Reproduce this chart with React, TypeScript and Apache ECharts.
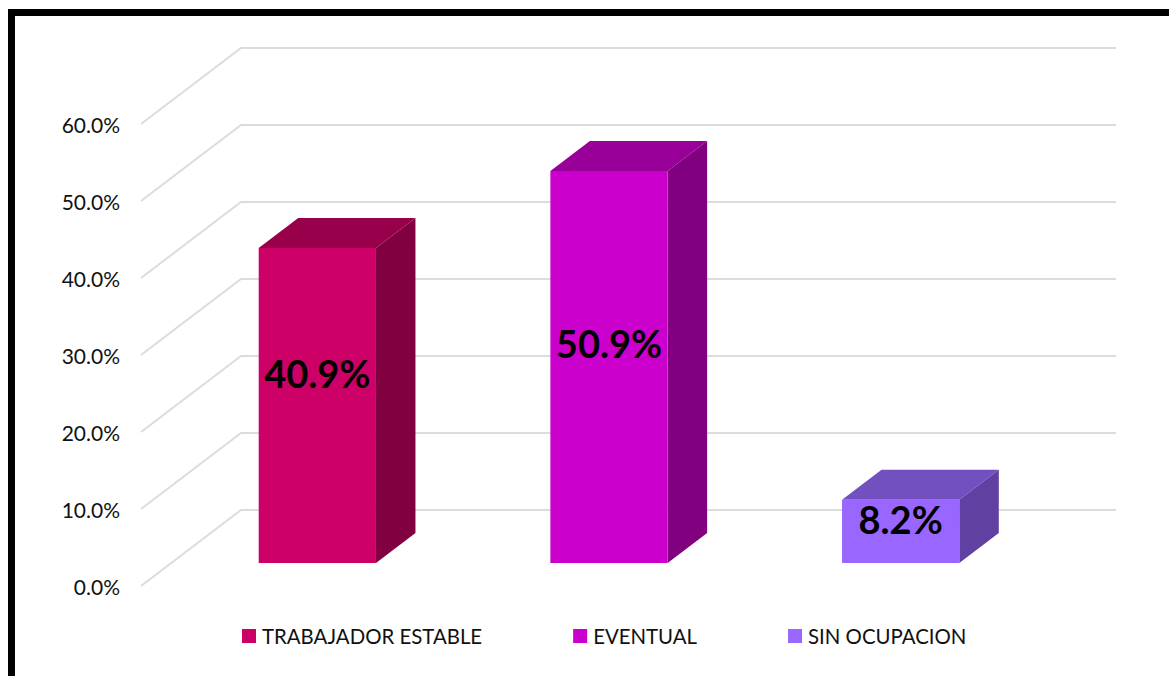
import React, { useEffect, useRef } from "react";
import * as echarts from "echarts";

const categories = ["TRABAJADOR ESTABLE", "EVENTUAL", "SIN OCUPACION"];
const values = [40.9, 50.9, 8.2];
const yTicks = [0, 10, 20, 30, 40, 50, 60];
const frontColors = ["#CC0066", "#CC00CC", "#9966FF"];
const topColors = ["#99004C", "#990099", "#7350BF"];
const sideColors = ["#800040", "#800080", "#6040A0"];
const labelLift = [33, 24, 12];

const FONT = "Lato, Carlito, 'Open Sans', sans-serif";
const WALL_DX = 100;
const WALL_DY = 76;
const BAR_DX = 30.5;
const BAR_DY = 23;
const DEPTH_DX = 39.5;
const DEPTH_DY = 30;
const BAR_RATIO = 0.402;

const wallItem = (params: any, api: any) => {
  const cs = params.coordSys;
  const y = api.coord([0, api.value(0)])[1];
  return {
    type: "polyline",
    shape: {
      points: [
        [cs.x, y],
        [cs.x + WALL_DX, y - WALL_DY],
        [cs.x + cs.width + WALL_DX, y - WALL_DY],
      ],
    },
    style: { stroke: "#DCDCDC", lineWidth: 2, fill: "none" },
    silent: true,
  };
};

const barItem = (index: number) => (_params: any, api: any) => {
  const top = api.coord([api.value(0), api.value(1)]);
  const base = api.coord([api.value(0), 0]);
  const width = api.size([1, 0])[0] * BAR_RATIO;
  const l = top[0] + BAR_DX - width / 2;
  const r = l + width;
  const t = top[1] - BAR_DY;
  const b = base[1] - BAR_DY;
  return {
    type: "group",
    children: [
      {
        type: "polygon",
        shape: { points: [[l, t], [l + DEPTH_DX, t - DEPTH_DY], [r + DEPTH_DX, t - DEPTH_DY], [r, t]] },
        style: { fill: topColors[index] },
      },
      {
        type: "polygon",
        shape: { points: [[r, t], [r + DEPTH_DX, t - DEPTH_DY], [r + DEPTH_DX, b - DEPTH_DY], [r, b]] },
        style: { fill: sideColors[index] },
      },
      {
        type: "rect",
        shape: { x: l, y: t, width, height: b - t },
        style: { fill: frontColors[index] },
      },
      {
        type: "text",
        x: (l + r) / 2,
        y: (t + b) / 2 - labelLift[index],
        style: {
          text: api.value(1).toFixed(1) + "%",
          fill: "#000000",
          font: `bold 38px ${FONT}`,
          textAlign: "center",
          textVerticalAlign: "middle",
        },
      },
    ],
  };
};

export default function App() {
  const ref = useRef<HTMLDivElement>(null);
  useEffect(() => {
    const chart = echarts.init(ref.current!, null, { renderer: "svg" });
    chart.setOption({
      animation: false,
      backgroundColor: "#FFFFFF",
      grid: { left: 141, top: 124, width: 875, height: 462, containLabel: false },
      xAxis: {
        type: "category",
        data: categories,
        axisLine: { show: false },
        axisTick: { show: false },
        axisLabel: { show: false },
        splitLine: { show: false },
      },
      yAxis: {
        type: "value",
        min: 0,
        max: 60,
        interval: 10,
        axisLine: { show: false },
        axisTick: { show: false },
        splitLine: { show: false },
        axisLabel: {
          margin: 21,
          color: "#111111",
          fontSize: 21,
          fontFamily: FONT,
          formatter: (v: number) => v.toFixed(1) + "%",
        },
      },
      legend: {
        data: categories,
        left: 242,
        top: 626,
        padding: 0,
        itemWidth: 14,
        itemHeight: 14,
        itemGap: 91,
        icon: "rect",
        selectedMode: false,
        textStyle: { color: "#111111", fontSize: 20.4, fontFamily: FONT, padding: [0, 0, 0, 1] },
      },
      graphic: [
        { type: "rect", shape: { x: 8, y: 9, width: 1161, height: 7 }, style: { fill: "#000000" } },
        { type: "rect", shape: { x: 8, y: 9, width: 7, height: 667 }, style: { fill: "#000000" } },
      ],
      series: [
        {
          type: "custom",
          name: "grid",
          silent: true,
          data: yTicks.map((v) => [v]),
          encode: { y: 0 },
          renderItem: wallItem,
        },
        ...categories.map((name, i) => ({
          type: "custom",
          name,
          itemStyle: { color: frontColors[i] },
          data: [[i, values[i]]],
          encode: { x: 0, y: 1 },
          renderItem: barItem(i),
        })),
      ],
    });
    return () => chart.dispose();
  }, []);
  return <div ref={ref} style={{ position: "fixed", left: 0, top: 0, width: 1169, height: 676 }} />;
}
